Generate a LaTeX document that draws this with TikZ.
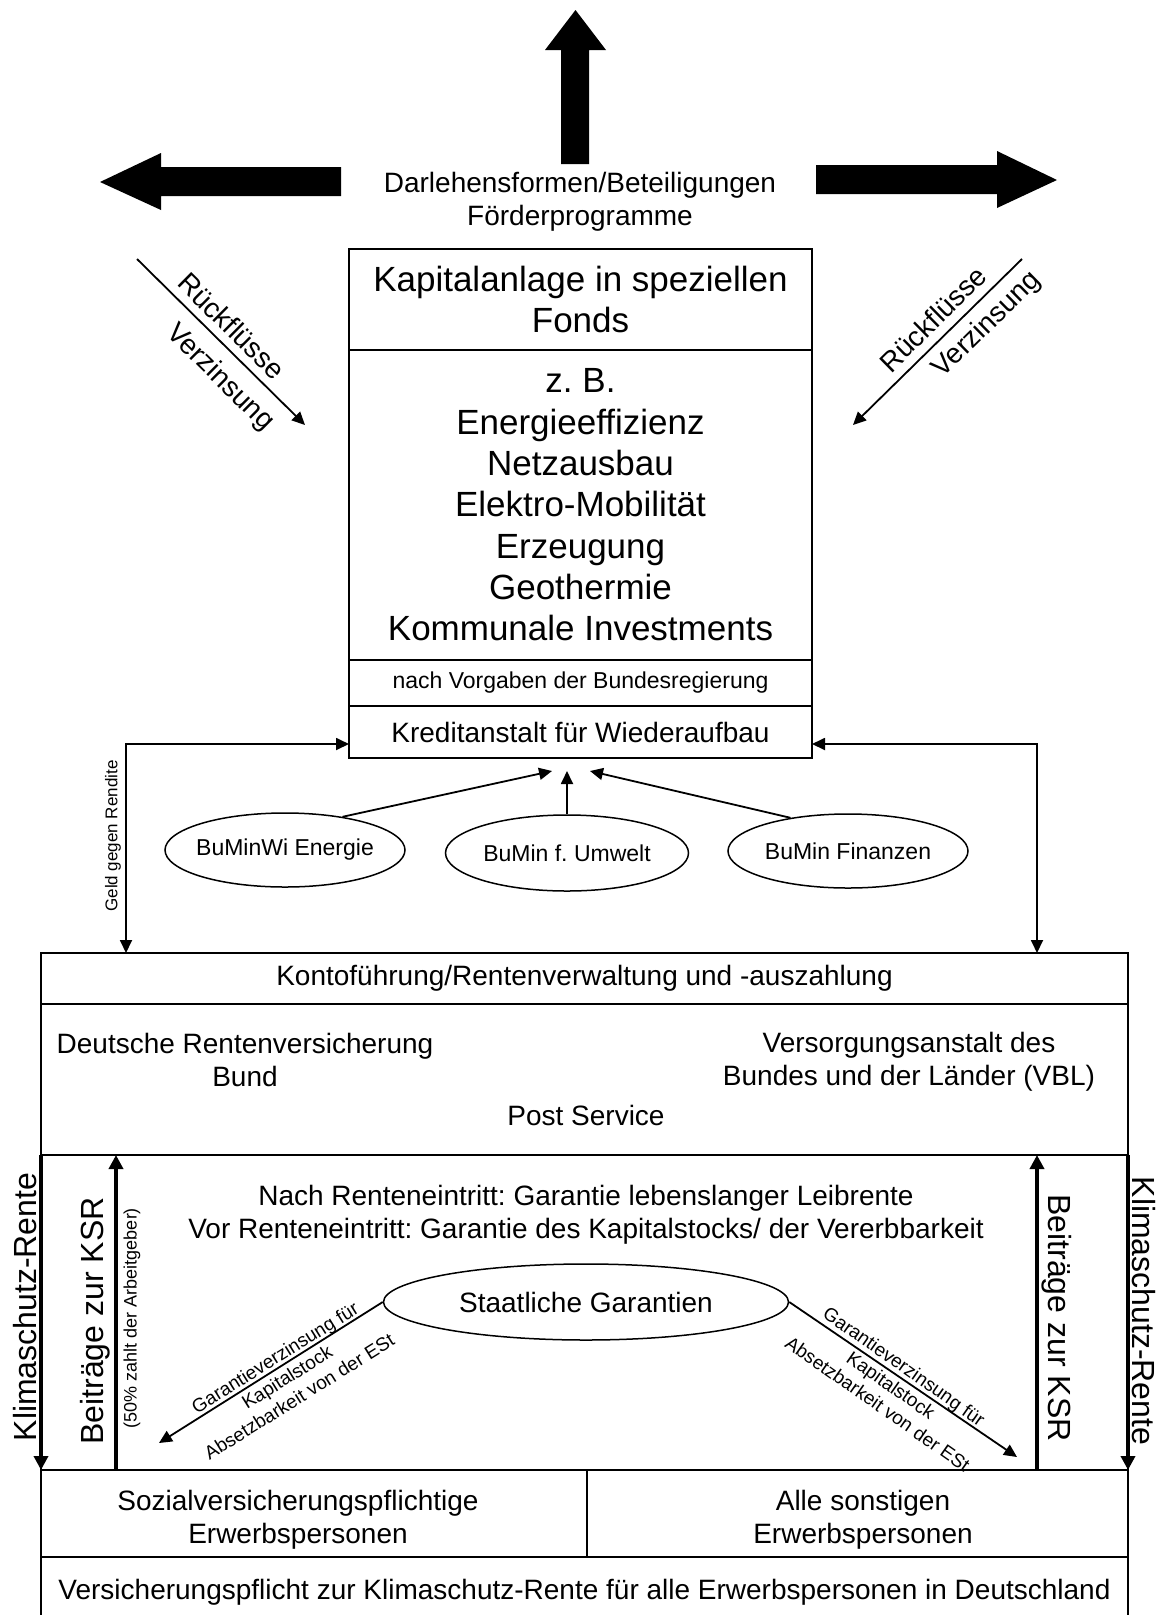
\documentclass[tikz,border=0pt]{standalone}
\usepackage{fontspec}
\setmainfont{Liberation Sans}
\frenchspacing
\usetikzlibrary{arrows.meta,shapes.geometric}
\tikzset{
 frame/.style={draw, line width=1.7pt, inner sep=0pt, outer sep=0pt, anchor=north west, align=center},
 tx/.style={inner sep=0pt, align=center},
 f35/.style={font=\fontsize{35}{41.3}\selectfont},
 f28/.style={font=\fontsize{28}{33}\selectfont},
 f32/.style={font=\fontsize{32}{36}\selectfont},
 f23/.style={font=\fontsize{23}{27}\selectfont},
 f19/.style={font=\fontsize{19}{23}\selectfont},
 f18/.style={font=\fontsize{18}{21}\selectfont},
 f17/.style={font=\fontsize{17}{20}\selectfont},
 ell/.style={ellipse, draw, line width=1.5pt, inner sep=0pt},
 thin arrow/.style={line width=1.8pt, -{Triangle[length=13pt,width=12pt]}},
 both arrow/.style={line width=1.8pt, {Triangle[length=13pt,width=12pt]}-{Triangle[length=13pt,width=12pt]}},
 thick arrow/.style={line width=4pt, -{Triangle[length=14pt,width=14pt]}},
}
\begin{document}
\begin{tikzpicture}[x=1pt,y=-1pt]
\fill[white] (0,0) rectangle (1168,1615);
\useasboundingbox (0,0) rectangle (1168,1615);

% block arrows at top
\fill (545,50) -- (575.5,10) -- (606,50) -- (589,50) -- (589,164) -- (561,164) -- (561,50) -- cycle;
\fill (100,182) -- (161,153) -- (161,167) -- (341,167) -- (341,196) -- (161,196) -- (161,210) -- cycle;
\fill (816,165) -- (997,165) -- (997,151) -- (1057,180) -- (997,208) -- (997,194) -- (816,194) -- cycle;
\node[tx,f28] (darl) at (580,202) {Darlehensformen/Beteiligungen\\Förderprogramme};

% main fund box
\node[frame,f35,minimum width=463pt,minimum height=101pt] (kap) at (349,249) {Kapitalanlage in speziellen\\Fonds};
\node[frame,f35,minimum width=463pt,minimum height=310pt] (liste) at (kap.south west) {z. B.\\Energieeffizienz\\Netzausbau\\Elektro-Mobilität\\Erzeugung\\Geothermie\\Kommunale Investments};
\node[frame,f23,minimum width=463pt,minimum height=46pt] (vorg) at (liste.south west) {nach Vorgaben der Bundesregierung};
\node[frame,f28,minimum width=463pt,minimum height=52pt] (kfw) at (vorg.south west) {Kreditanstalt für Wiederaufbau};

% Rueckfluesse arrows
\coordinate (rl1) at (137,259); \coordinate (rl2) at (305,425);
\draw[thin arrow] (rl1) -- (rl2);
\node[tx,f28,rotate=-44.7] (rlA) at (232,326) {Rückflüsse};
\node[tx,f28,rotate=-44.7] (rlB) at (220,378) {Verzinsung};
\coordinate (rr1) at (1022,259); \coordinate (rr2) at (853,425);
\draw[thin arrow] (rr1) -- (rr2);
\node[tx,f28,rotate=44.5] (rrA) at (933,319) {Rückflüsse};
\node[tx,f28,rotate=44.5] (rrB) at (987,325) {Verzinsung};

% ministries
\node[ell,f23,minimum width=240pt,minimum height=74pt] (e1) at (285,850) {\makebox[0pt]{BuMinWi Energie}};
\node[ell,f23,minimum width=243pt,minimum height=76pt] (e2) at (567,853) {\makebox[0pt]{BuMin f. Umwelt}};
\node[ell,f23,minimum width=240pt,minimum height=74pt] (e3) at (848,851) {\makebox[0pt]{BuMin Finanzen}};
\coordinate (k1) at (552,771); \coordinate (k2) at (567,771); \coordinate (k3) at (590,771);
\draw[thin arrow] (e1.30) -- (k1);
\draw[thin arrow] (e2.north) -- (k2);
\draw[thin arrow] (e3.150) -- (k3);

% lower structure
\node[frame,f28,minimum width=1087pt,minimum height=51pt] (konto) at (41,953) {Kontoführung/Rentenverwaltung und -auszahlung};
\node[frame,minimum width=1087pt,minimum height=151pt] (traeger) at (konto.south west) {};
\node[frame,minimum width=1087pt,minimum height=315pt] (garant) at (traeger.south west) {};
\node[frame,minimum width=546pt,minimum height=87pt] (svp) at (garant.south west) {};
\node[frame,minimum width=541pt,minimum height=87pt] (sonst) at (svp.north east) {};
\node[frame,f28,minimum width=1087pt,minimum height=70pt] (pflicht) at (svp.south west) {Versicherungspflicht zur Klimaschutz-Rente für alle Erwerbspersonen in Deutschland};

% Geld gegen Rendite
\draw[both arrow] ([yshift=-12pt]kfw.west) -| ([xshift=85pt]konto.north west);
\draw[both arrow] ([yshift=-12pt]kfw.east) -| ([xshift=-91pt]konto.north east);
\node[tx,f17,rotate=90] (geld) at (113,836) {Geld gegen Rendite};

% texts in boxes
\node[tx,f28] (drv) at (245,1060) {Deutsche Rentenversicherung\\Bund};
\node[tx,f28] (vbl) at (909,1062) {Versorgungsanstalt des\\Bundes und der Länder (VBL)};
\node[tx,f28] (post) at (586,1115) {Post Service};
\node[tx,f28] (garTxt) at (586,1215) {Nach Renteneintritt: Garantie lebenslanger Leibrente\\Vor Renteneintritt: Garantie des Kapitalstocks/ der Vererbbarkeit};
\node[ell,f28,minimum width=405pt,minimum height=76pt] (sg) at (586,1302) {\makebox[0pt]{Staatliche Garantien}};
\node[tx,f28] (svpT) at (298,1520) {Sozialversicherungspflichtige\\Erwerbspersonen};
\node[tx,f28] (sonstT) at (863,1520) {Alle sonstigen\\Erwerbspersonen};

% guarantee arrows
\coordinate (gl) at (159,1443); \coordinate (gr) at (1017,1457);
\draw[thin arrow] (sg.west) -- (gl);
\draw[thin arrow] (sg.east) -- (gr);
\node[tx,f19,rotate=32] (glT) at (287,1377) {Garantieverzinsung für\\Kapitalstock\\Absetzbarkeit von der ESt};
\node[tx,f19,rotate=-35] (grT) at (891,1385) {Garantieverzinsung für\\Kapitalstock\\Absetzbarkeit von der ESt};

% thick vertical arrows
\draw[thick arrow] (garant.north west) -- (garant.south west);
\draw[thick arrow] ([xshift=75pt]garant.south west) -- ([xshift=75pt]garant.north west);
\draw[thick arrow] ([xshift=-91pt]garant.south east) -- ([xshift=-91pt]garant.north east);
\draw[thick arrow] (garant.north east) -- (garant.south east);
\node[tx,f32,rotate=90] (klL) at (25,1307) {Klimaschutz-Rente};
\node[tx,f32,rotate=90] (beL) at (95,1321) {Beiträge zur KSR};
\node[tx,f18,rotate=90] (arb) at (132,1318) {(50\% zahlt der Arbeitgeber)};
\node[tx,f32,rotate=-90] (beR) at (1057,1318) {Beiträge zur KSR};
\node[tx,f32,rotate=-90] (klR) at (1144,1311) {Klimaschutz-Rente};
\end{tikzpicture}
\end{document}
